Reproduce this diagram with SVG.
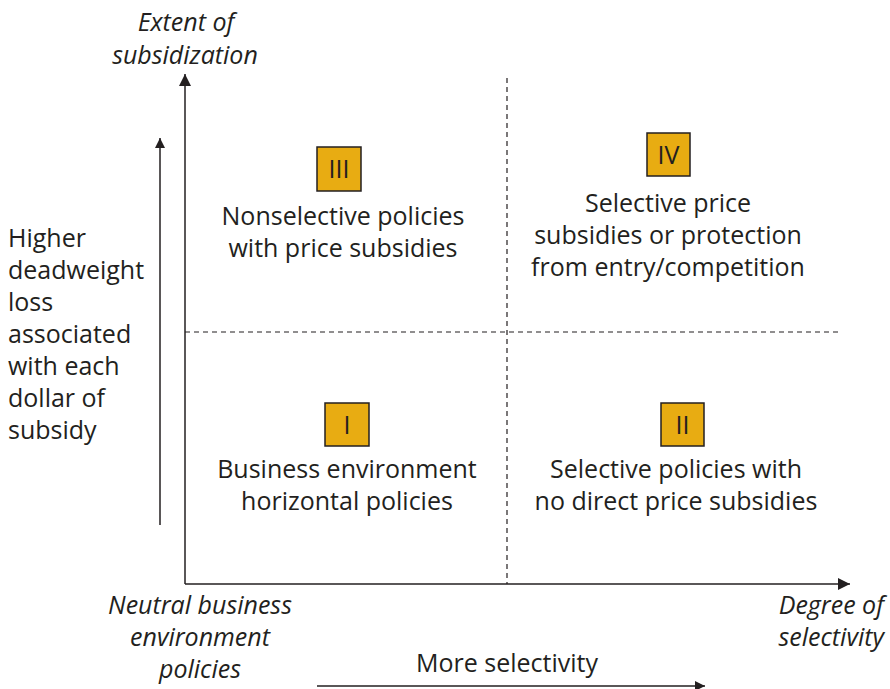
<svg xmlns="http://www.w3.org/2000/svg" width="890" height="689" viewBox="0 0 890 689">
<style>
text{font-family:"Open Sans","Noto Sans",sans-serif;font-size:25px;fill:#231f20}
.it{font-style:italic}
.c{text-anchor:middle}
.ax{stroke:#231f20;stroke-width:1.5;fill:none}
.dash{stroke:#231f20;stroke-width:1.2;stroke-dasharray:5 4;fill:none}
.box{fill:#e8ac12;stroke:#231f20;stroke-width:1.5}
</style>
<defs>
<marker id="ah" viewBox="0 0 10 10" refX="10" refY="5" markerWidth="10" markerHeight="10" markerUnits="userSpaceOnUse" orient="auto">
<path d="M0,0 L10,5 L0,10 z" fill="#231f20"/>
</marker>
<marker id="ah2" viewBox="0 0 10 10" refX="10" refY="5" markerWidth="12" markerHeight="12" markerUnits="userSpaceOnUse" orient="auto">
<path d="M0,0 L10,5 L0,10 z" fill="#231f20"/>
</marker>
</defs>
<g id="connectors">
<line class="dash" x1="507" y1="78" x2="507" y2="584"/>
<line class="dash" x1="185" y1="332" x2="838" y2="332"/>
<line class="ax" x1="185" y1="584" x2="185" y2="74" marker-end="url(#ah2)"/>
<line class="ax" x1="185" y1="584" x2="850" y2="584" marker-end="url(#ah2)"/>
<line class="ax" x1="160" y1="525" x2="160" y2="138" marker-end="url(#ah)"/>
<line class="ax" x1="317" y1="686" x2="705" y2="686" marker-end="url(#ah)"/>
</g>
<g id="axis-y-label">
<text class="it c" x="186" y="31">Extent of</text>
<text class="it c" x="185" y="64">subsidization</text>
</g>
<g id="axis-x-label">
<text class="it" x="884" y="614" text-anchor="end">Degree of</text>
<text class="it" x="884" y="646" text-anchor="end">selectivity</text>
</g>
<g id="neutral-label">
<text class="it c" x="200" y="614">Neutral business</text>
<text class="it c" x="200" y="646">environment</text>
<text class="it c" x="200" y="678">policies</text>
</g>
<g id="more-selectivity">
<text class="c" x="507" y="672">More selectivity</text>
</g>
<g id="deadweight-label">
<text x="8" y="247">Higher</text>
<text x="8" y="279">deadweight</text>
<text x="8" y="311">loss</text>
<text x="8" y="343">associated</text>
<text x="8" y="375">with each</text>
<text x="8" y="407">dollar of</text>
<text x="8" y="439">subsidy</text>
</g>
<g id="quadrant-III">
<rect class="box" x="317" y="147" width="44" height="44"/>
<text class="c" x="339" y="178">III</text>
<text class="c" x="343" y="225">Nonselective policies</text>
<text class="c" x="343" y="257">with price subsidies</text>
</g>
<g id="quadrant-IV">
<rect class="box" x="647" y="133" width="43" height="43"/>
<text class="c" x="668.5" y="164">IV</text>
<text class="c" x="668" y="212">Selective price</text>
<text class="c" x="668" y="244">subsidies or protection</text>
<text class="c" x="668" y="276">from entry/competition</text>
</g>
<g id="quadrant-I">
<rect class="box" x="325" y="403" width="44" height="43"/>
<text class="c" x="347" y="434">I</text>
<text class="c" x="347" y="478">Business environment</text>
<text class="c" x="347" y="510">horizontal policies</text>
</g>
<g id="quadrant-II">
<rect class="box" x="661" y="403" width="43" height="43"/>
<text class="c" x="682.5" y="434">II</text>
<text class="c" x="676" y="478">Selective policies with</text>
<text class="c" x="676" y="510">no direct price subsidies</text>
</g>
</svg>
